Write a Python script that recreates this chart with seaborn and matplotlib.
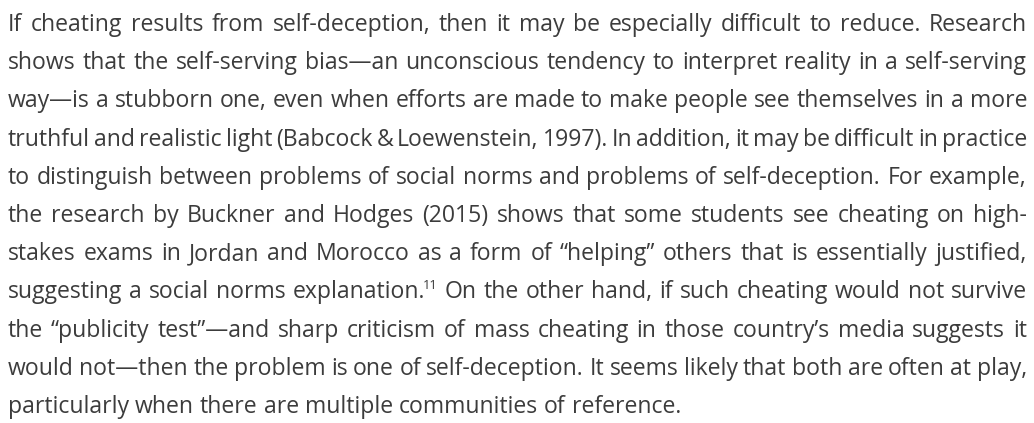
import matplotlib
matplotlib.use("Agg")
import matplotlib.pyplot as plt
import seaborn as sns

# paragraph text, one entry per printed line (the "^" marks a superscript note)
LINES = [
    "If cheating results from self-deception, then it may be especially difficult to reduce. Research",
    "shows that the self-serving bias\u2014an unconscious tendency to interpret reality in a self-serving",
    "way\u2014is a stubborn one, even when efforts are made to make people see themselves in a more",
    "truthful and realistic light (Babcock & Loewenstein, 1997). In addition, it may be difficult in practice",
    "to distinguish between problems of social norms and problems of self-deception. For example,",
    "the research by Buckner and Hodges (2015) shows that some students see cheating on high-",
    "stakes exams in Jordan and Morocco as a form of \u201chelping\u201d others that is essentially justified,",
    "suggesting a social norms explanation.^11 On the other hand, if such cheating would not survive",
    "the \u201cpublicity test\u201d\u2014and sharp criticism of mass cheating in those country\u2019s media suggests it",
    "would not\u2014then the problem is one of self-deception. It seems likely that both are often at play,",
    "particularly when there are multiple communities of reference.",
]

W, H = 1034, 423
LEFT, RIGHT = 8, 1027
FIRST_BASELINE = 31
LEADING = 38.2
FONT_SIZE = 16.6
COLOR = "#3c3c3c"

sns.set_theme(style="white")
plt.rcParams["font.family"] = ["Open Sans", "DejaVu Sans"]

fig = plt.figure(figsize=(W / 100, H / 100), dpi=100)
ax = fig.add_axes([0, 0, 1, 1])
ax.set_xlim(0, W)
ax.set_ylim(H, 0)
ax.axis("off")
renderer = fig.canvas.get_renderer()


def text_width(s, size):
    t = ax.text(0, 0, s, fontsize=size)
    w = t.get_window_extent(renderer).width
    t.remove()
    return w


space_w = text_width("a a", FONT_SIZE) - text_width("aa", FONT_SIZE)

for i, line in enumerate(LINES):
    y = FIRST_BASELINE + i * LEADING
    words = []
    for tok in line.split(" "):
        base, _, sup = tok.partition("^")
        w = text_width(base, FONT_SIZE)
        sw = text_width(sup, FONT_SIZE * 0.55) - 2 if sup else 0
        words.append((base, sup, w, sw))
    total = sum(w + sw for _, _, w, sw in words)
    last = i == len(LINES) - 1
    gap = space_w if last else (RIGHT - LEFT - total) / (len(words) - 1)
    x = LEFT
    for base, sup, w, sw in words:
        ax.text(x, y, base, fontsize=FONT_SIZE, color=COLOR, va="baseline", ha="left")
        if sup:
            ax.text(x + w - 2, y - 9, sup, fontsize=FONT_SIZE * 0.55, color=COLOR,
                    va="baseline", ha="left")
        x += w + sw + gap

fig.savefig("out.png", dpi=100)
